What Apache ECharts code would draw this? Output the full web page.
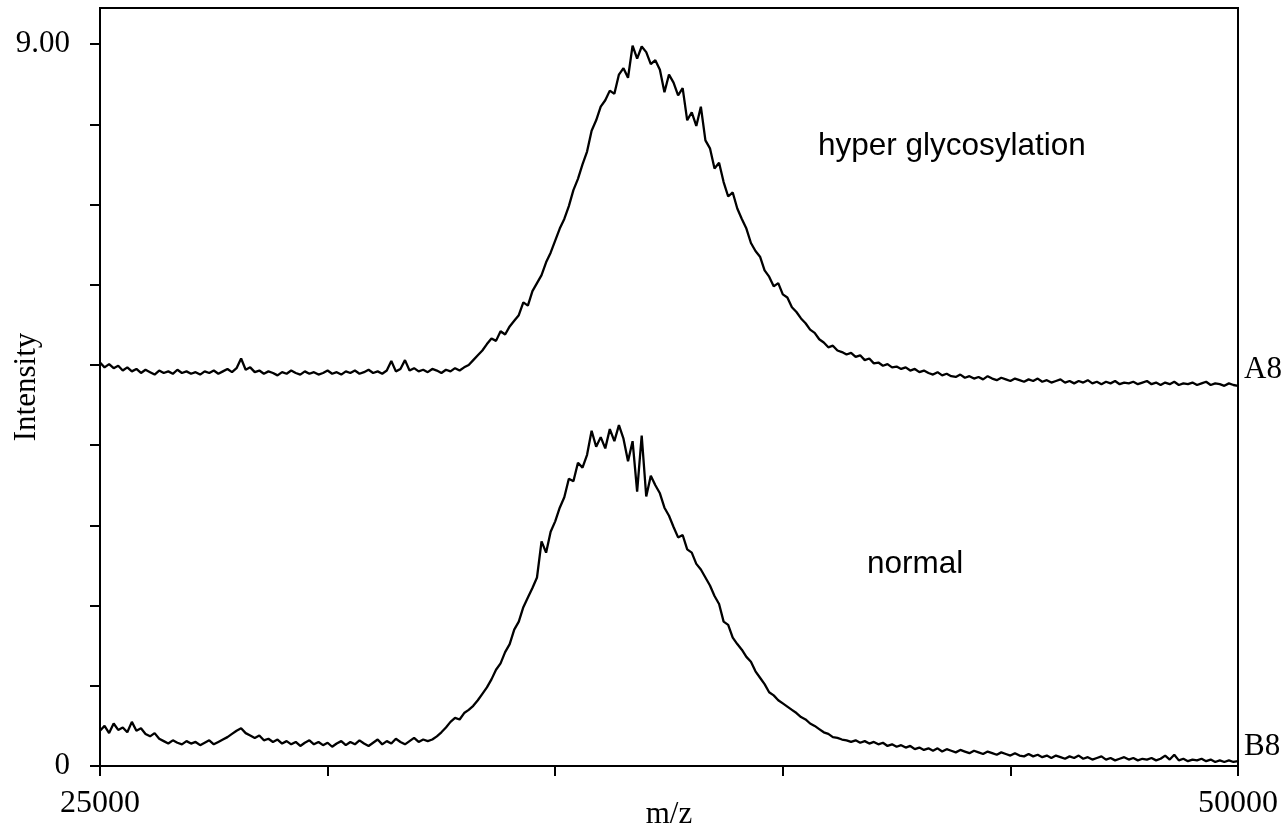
<!DOCTYPE html>
<html>
<head>
<meta charset="utf-8">
<script src="https://cdn.jsdelivr.net/npm/echarts@6/dist/echarts.min.js"></script>
<style>html,body{margin:0;padding:0;background:#fff}#chart{width:1287px;height:829px}</style>
</head>
<body>
<div id="chart"></div>
<script>
// m/z sampling grid (start and spacing of the spectra samples)
var mzStart = 25000;
var mzStep = 100;

// A8 (hyper glycosylation) intensity (one value per 100 m/z)
var seriesA8 = [
5.03,4.97,5.01,4.96,4.99,4.93,4.97,4.92,4.95,4.90,
4.94,4.91,4.88,4.93,4.90,4.92,4.89,4.94,4.90,4.92,
4.89,4.91,4.88,4.92,4.90,4.93,4.89,4.92,4.95,4.91,
4.96,5.08,4.94,4.97,4.91,4.93,4.89,4.92,4.90,4.87,
4.91,4.89,4.93,4.90,4.88,4.92,4.89,4.91,4.88,4.90,
4.93,4.89,4.91,4.88,4.92,4.90,4.93,4.89,4.91,4.94,
4.90,4.92,4.89,4.93,5.05,4.92,4.95,5.06,4.93,4.96,
4.92,4.94,4.91,4.95,4.93,4.90,4.94,4.92,4.96,4.93,
4.97,5.00,5.06,5.12,5.18,5.26,5.33,5.30,5.42,5.38,
5.48,5.55,5.62,5.78,5.74,5.92,6.02,6.12,6.28,6.40,
6.55,6.70,6.82,6.98,7.18,7.32,7.50,7.66,7.92,8.05,
8.22,8.30,8.42,8.38,8.62,8.70,8.58,8.98,8.82,8.97,
8.90,8.75,8.80,8.68,8.40,8.62,8.52,8.36,8.45,8.05,
8.15,7.98,8.22,7.80,7.70,7.45,7.52,7.28,7.10,7.15,
6.95,6.82,6.70,6.52,6.42,6.35,6.18,6.10,5.98,6.02,
5.88,5.84,5.72,5.66,5.58,5.52,5.44,5.40,5.32,5.28,
5.22,5.24,5.18,5.16,5.13,5.15,5.10,5.12,5.06,5.08,
5.02,5.03,4.99,5.01,4.97,4.98,4.95,4.97,4.93,4.95,
4.91,4.93,4.90,4.88,4.91,4.87,4.89,4.86,4.85,4.88,
4.84,4.86,4.83,4.85,4.82,4.86,4.83,4.81,4.84,4.82,
4.80,4.83,4.81,4.79,4.82,4.80,4.83,4.79,4.81,4.78,
4.80,4.82,4.78,4.80,4.77,4.80,4.78,4.81,4.77,4.79,
4.76,4.79,4.77,4.80,4.76,4.78,4.77,4.79,4.76,4.78,
4.80,4.76,4.78,4.75,4.78,4.76,4.79,4.75,4.77,4.76,
4.78,4.75,4.77,4.79,4.75,4.77,4.76,4.74,4.77,4.75,
4.74
];

// B8 (normal) intensity (one value per 100 m/z)
var seriesB8 = [
0.44,0.50,0.41,0.53,0.45,0.48,0.42,0.55,0.44,0.47,
0.40,0.37,0.41,0.34,0.31,0.28,0.32,0.29,0.27,0.31,
0.28,0.30,0.26,0.29,0.32,0.27,0.30,0.33,0.36,0.40,
0.44,0.47,0.41,0.38,0.35,0.38,0.32,0.34,0.30,0.33,
0.28,0.31,0.27,0.30,0.25,0.29,0.32,0.27,0.30,0.26,
0.29,0.24,0.28,0.31,0.26,0.30,0.27,0.32,0.28,0.25,
0.29,0.33,0.27,0.31,0.28,0.34,0.30,0.27,0.31,0.35,
0.30,0.33,0.31,0.33,0.37,0.42,0.48,0.55,0.60,0.58,
0.66,0.70,0.75,0.82,0.90,0.98,1.08,1.20,1.28,1.42,
1.52,1.70,1.80,1.98,2.10,2.22,2.35,2.80,2.66,2.92,
3.05,3.22,3.35,3.58,3.55,3.78,3.72,3.88,4.18,3.98,
4.10,3.96,4.20,4.05,4.25,4.08,3.80,4.05,3.42,4.12,
3.36,3.62,3.50,3.40,3.22,3.12,2.98,2.85,2.88,2.70,
2.66,2.52,2.45,2.35,2.25,2.12,2.02,1.80,1.76,1.60,
1.52,1.45,1.36,1.30,1.18,1.10,1.02,0.92,0.88,0.82,
0.78,0.74,0.70,0.66,0.61,0.58,0.53,0.50,0.46,0.42,
0.40,0.36,0.35,0.33,0.32,0.30,0.32,0.29,0.31,0.28,
0.30,0.27,0.29,0.25,0.27,0.24,0.26,0.23,0.25,0.21,
0.23,0.20,0.22,0.19,0.22,0.18,0.21,0.19,0.17,0.20,
0.18,0.16,0.19,0.17,0.15,0.18,0.16,0.14,0.17,0.15,
0.13,0.16,0.13,0.12,0.15,0.12,0.14,0.11,0.13,0.10,
0.13,0.11,0.09,0.12,0.10,0.13,0.09,0.11,0.08,0.10,
0.12,0.08,0.10,0.07,0.09,0.11,0.08,0.10,0.07,0.09,
0.08,0.10,0.07,0.09,0.13,0.08,0.14,0.07,0.09,0.06,
0.08,0.07,0.09,0.06,0.08,0.05,0.07,0.05,0.07,0.05,
0.06
];

var seriesNames = ['A8', 'B8'];
var xTickLabels = [25000, 50000];
var yTickValues = [0, 1, 2, 3, 4, 5, 6, 7, 8, 9];
var yTickLabels = {0: '0', 9: '9.00'};
var annotations = ['hyper glycosylation', 'normal'];

function toPairs(values) {
  return values.map(function (v, i) { return [mzStart + i * mzStep, v]; });
}

var serif = '"Liberation Serif","Times New Roman",serif';
var sans = '"Liberation Sans",Arial,sans-serif';

var chart = echarts.init(document.getElementById('chart'), null, {renderer: 'canvas'});
chart.setOption({
  animation: false,
  backgroundColor: '#fff',
  grid: {
    left: 100, right: 49, top: 8, bottom: 63,
    containLabel: false, outerBoundsMode: 'none',
    show: true, borderColor: '#000', borderWidth: 2, backgroundColor: 'transparent'
  },
  xAxis: {
    type: 'value', min: 25000, max: 50000, interval: 5000,
    name: 'm/z', nameLocation: 'middle', nameGap: 33, nameMoveOverlap: false,
    nameTextStyle: {fontFamily: serif, fontSize: 31, color: '#000'},
    axisLine: {lineStyle: {color: '#000', width: 2}},
    axisTick: {length: 10, lineStyle: {color: '#000', width: 2}},
    axisLabel: {
      margin: 22, fontFamily: serif, fontSize: 32, color: '#000',
      customValues: xTickLabels,
      formatter: function (v) { return xTickLabels.indexOf(v) >= 0 ? String(v) : ''; }
    },
    splitLine: {show: false}
  },
  yAxis: {
    type: 'value', min: 0, max: 9.45,
    name: 'Intensity', nameLocation: 'middle', nameGap: 58, nameMoveOverlap: false,
    nameTextStyle: {fontFamily: serif, fontSize: 31, color: '#000'},
    axisLine: {lineStyle: {color: '#000', width: 2}},
    axisTick: {length: 10, lineStyle: {color: '#000', width: 2}, customValues: yTickValues},
    axisLabel: {
      margin: 30, fontFamily: serif, fontSize: 31, color: '#000', padding: [5, 0, 0, 0],
      customValues: [0, 9],
      formatter: function (v) { return yTickLabels[v] !== undefined ? yTickLabels[v] : ''; }
    },
    splitLine: {show: false}
  },
  series: [
    {
      name: seriesNames[0], type: 'line', data: toPairs(seriesA8),
      showSymbol: false, symbol: 'none',
      lineStyle: {color: '#000', width: 2.3},
      endLabel: {
        show: true, formatter: function (p) { return p.seriesName; },
        fontFamily: serif, fontSize: 31, color: '#000', distance: 6, offset: [0, -16]
      }
    },
    {
      name: seriesNames[1], type: 'line', data: toPairs(seriesB8),
      showSymbol: false, symbol: 'none',
      lineStyle: {color: '#000', width: 2.3},
      endLabel: {
        show: true, formatter: function (p) { return p.seriesName; },
        fontFamily: serif, fontSize: 31, color: '#000', distance: 6, offset: [0, -14]
      }
    }
  ],
  graphic: [
    {type: 'text', left: 818, top: 130, style: {text: annotations[0], font: '31.5px ' + sans, fill: '#000'}},
    {type: 'text', left: 867, top: 548, style: {text: annotations[1], font: '31.5px ' + sans, fill: '#000'}}
  ]
});
</script>
</body>
</html>
